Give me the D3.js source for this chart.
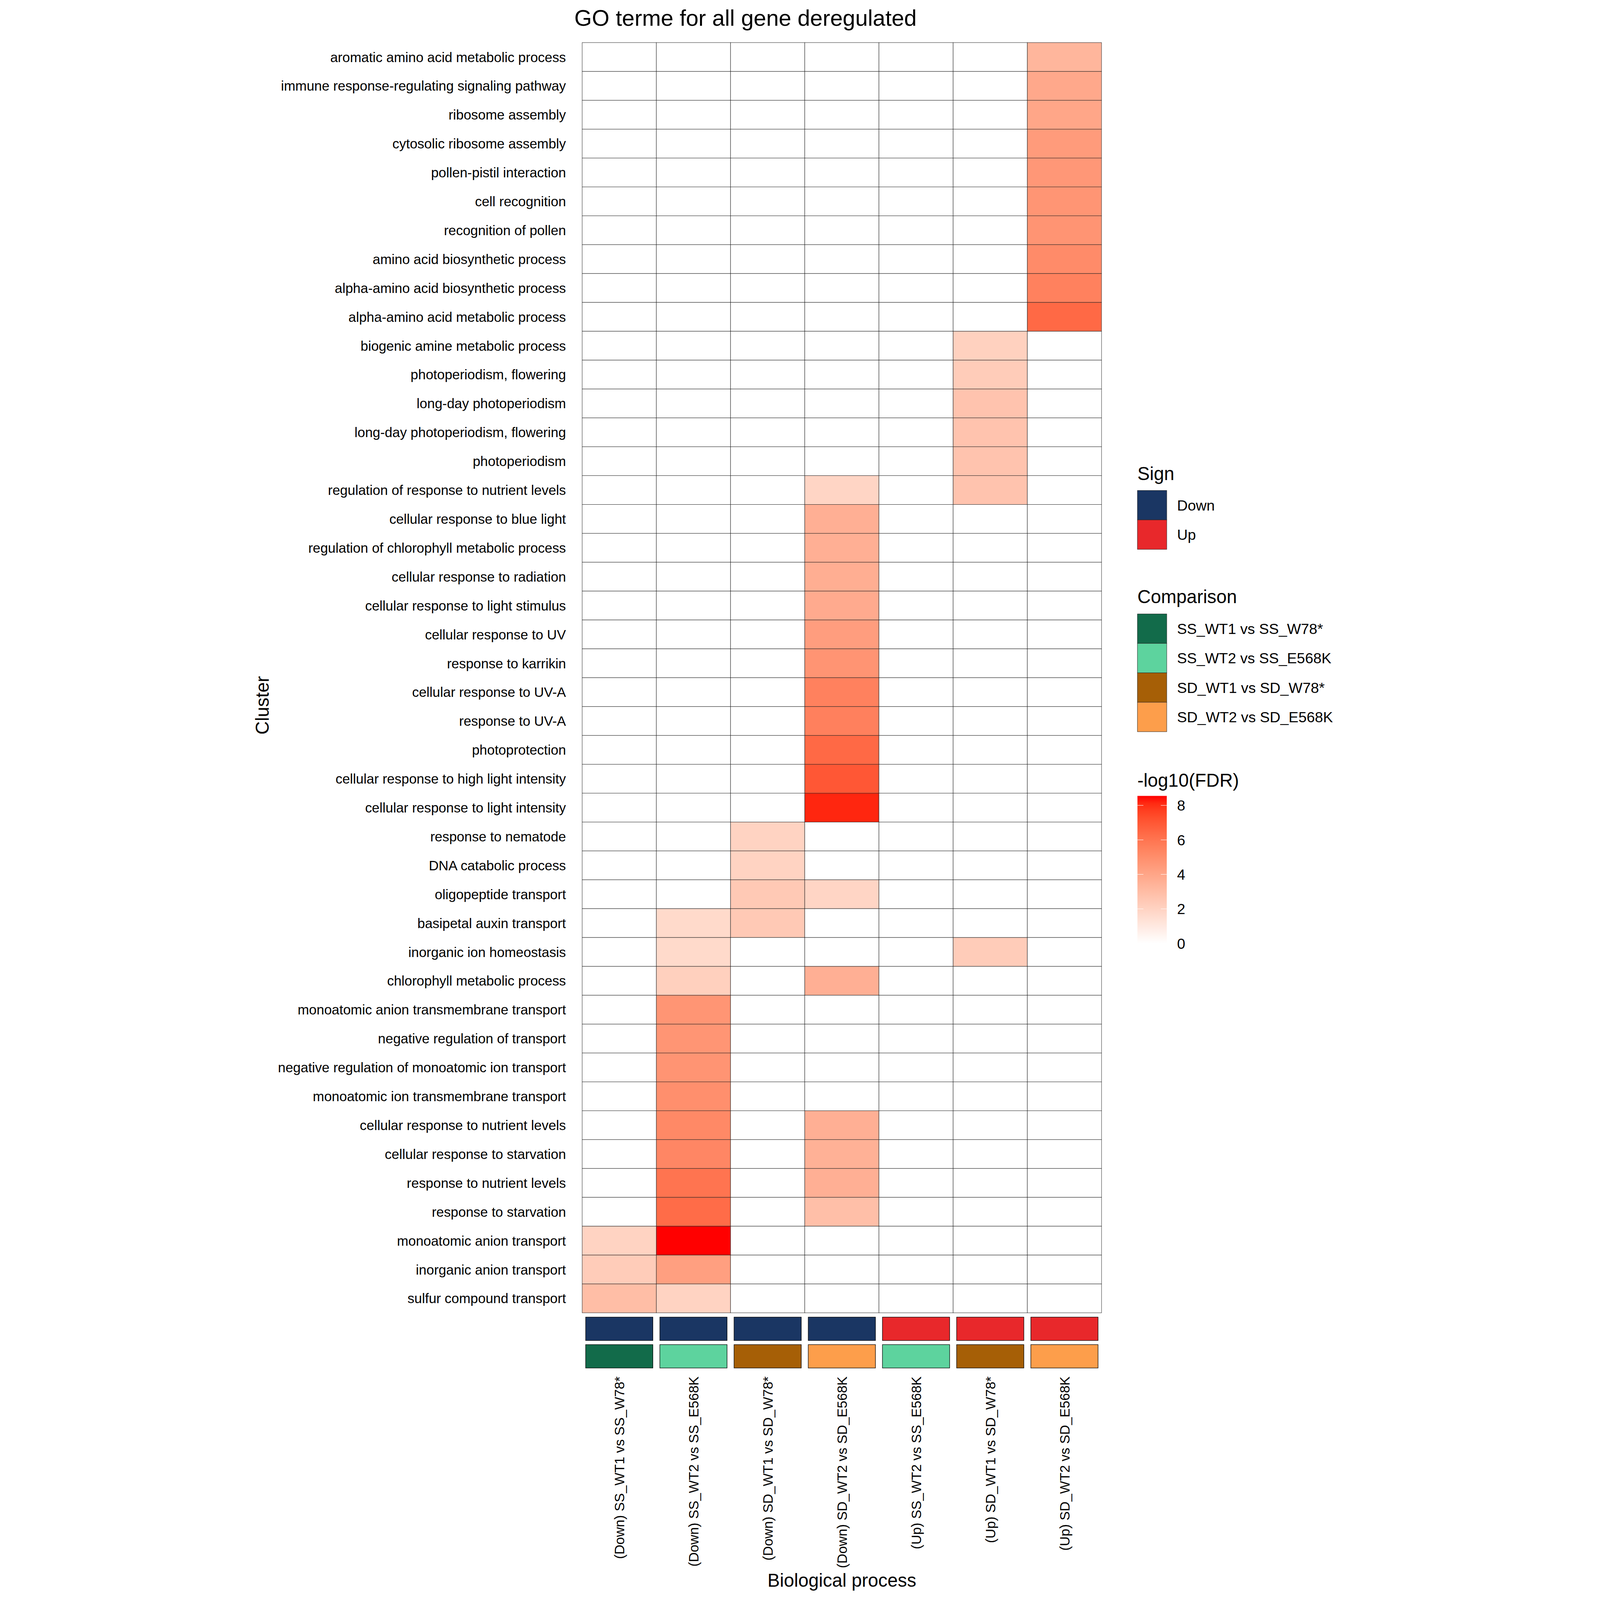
<!DOCTYPE html>
<html><head><meta charset="utf-8">
<script src="https://cdn.jsdelivr.net/npm/d3@7"></script>
<style>html,body{margin:0;padding:0;background:#fff;overflow:hidden}svg{display:block}</style>
</head><body>
<script>
// ---------------- DATA ----------------
const terms = [
 "aromatic amino acid metabolic process",
 "immune response-regulating signaling pathway",
 "ribosome assembly",
 "cytosolic ribosome assembly",
 "pollen-pistil interaction",
 "cell recognition",
 "recognition of pollen",
 "amino acid biosynthetic process",
 "alpha-amino acid biosynthetic process",
 "alpha-amino acid metabolic process",
 "biogenic amine metabolic process",
 "photoperiodism, flowering",
 "long-day photoperiodism",
 "long-day photoperiodism, flowering",
 "photoperiodism",
 "regulation of response to nutrient levels",
 "cellular response to blue light",
 "regulation of chlorophyll metabolic process",
 "cellular response to radiation",
 "cellular response to light stimulus",
 "cellular response to UV",
 "response to karrikin",
 "cellular response to UV-A",
 "response to UV-A",
 "photoprotection",
 "cellular response to high light intensity",
 "cellular response to light intensity",
 "response to nematode",
 "DNA catabolic process",
 "oligopeptide transport",
 "basipetal auxin transport",
 "inorganic ion homeostasis",
 "chlorophyll metabolic process",
 "monoatomic anion transmembrane transport",
 "negative regulation of transport",
 "negative regulation of monoatomic ion transport",
 "monoatomic ion transmembrane transport",
 "cellular response to nutrient levels",
 "cellular response to starvation",
 "response to nutrient levels",
 "response to starvation",
 "monoatomic anion transport",
 "inorganic anion transport",
 "sulfur compound transport"
];

const columns = [
 "(Down) SS_WT1 vs SS_W78*",
 "(Down) SS_WT2 vs SS_E568K",
 "(Down) SD_WT1 vs SD_W78*",
 "(Down) SD_WT2 vs SD_E568K",
 "(Up) SS_WT2 vs SS_E568K",
 "(Up) SD_WT1 vs SD_W78*",
 "(Up) SD_WT2 vs SD_E568K"
];
const columnSign = ["Down","Down","Down","Down","Up","Up","Up"];
const columnComparison = [
 "SS_WT1 vs SS_W78*","SS_WT2 vs SS_E568K","SD_WT1 vs SD_W78*","SD_WT2 vs SD_E568K",
 "SS_WT2 vs SS_E568K","SD_WT1 vs SD_W78*","SD_WT2 vs SD_E568K"
];

const signLevels = ["Down","Up"];
const signColors = ["#1a3663","#e8282b"];
const comparisonLevels = ["SS_WT1 vs SS_W78*","SS_WT2 vs SS_E568K","SD_WT1 vs SD_W78*","SD_WT2 vs SD_E568K"];
const comparisonColors = ["#126b4a","#5dd39e","#a65f06","#fd9e4b"];

// -log10(FDR) per column, in the order of `terms` (0 = not enriched)
const downSS_WT1_W78 = [0,0,0,0,0,0,0,0,0,0, 0,0,0,0,0,0,0,0,0,0, 0,0,0,0,0,0,0,0,0,0, 0,0,0,0,0,0,0,0,0,0, 0,2.0,2.3,2.95];
const downSS_WT2_E568K = [0,0,0,0,0,0,0,0,0,0, 0,0,0,0,0,0,0,0,0,0, 0,0,0,0,0,0,0,0,0,0, 1.7,1.7,2.15,4.7,4.7,4.75,4.95,5.2,5.3,6.0, 6.3,8.55,4.3,2.0];
const downSD_WT1_W78 = [0,0,0,0,0,0,0,0,0,0, 0,0,0,0,0,0,0,0,0,0, 0,0,0,0,0,0,0,2.0,2.0,2.45, 2.45,0,0,0,0,0,0,0,0,0, 0,0,0,0];
const downSD_WT2_E568K = [0,0,0,0,0,0,0,0,0,0, 0,0,0,0,0,1.9,3.6,3.6,3.65,3.8, 4.35,4.75,5.5,5.55,6.4,7.0,8.2,0,0,1.9, 0,0,3.6,0,0,0,0,3.6,3.5,3.6, 2.9,0,0,0];
const upSS_WT2_E568K = [0,0,0,0,0,0,0,0,0,0, 0,0,0,0,0,0,0,0,0,0, 0,0,0,0,0,0,0,0,0,0, 0,0,0,0,0,0,0,0,0,0, 0,0,0,0];
const upSD_WT1_W78 = [0,0,0,0,0,0,0,0,0,0, 2.1,2.3,2.7,2.7,2.7,2.7,0,0,0,0, 0,0,0,0,0,0,0,0,0,0, 0,2.3,0,0,0,0,0,0,0,0, 0,0,0,0];
const upSD_WT2_E568K = [3.3,3.9,4.0,4.45,4.6,4.7,4.75,5.1,5.5,6.4, 0,0,0,0,0,0,0,0,0,0, 0,0,0,0,0,0,0,0,0,0, 0,0,0,0,0,0,0,0,0,0, 0,0,0,0];

const legendTicks = [0,2,4,6,8];

// build long table
const seriesByColumn = [downSS_WT1_W78, downSS_WT2_E568K, downSD_WT1_W78, downSD_WT2_E568K, upSS_WT2_E568K, upSD_WT1_W78, upSD_WT2_E568K];
const cells = [];
columns.forEach((c, ci) => terms.forEach((t, ti) => cells.push({col: c, term: t, v: seriesByColumn[ci][ti]})));

// ---------------- DRAW ----------------
const W = 5400, H = 7800;
const FONT = "'Liberation Sans', Arial, Helvetica, sans-serif";
const svg = d3.select("body").append("svg")
  .attr("viewBox", `0 0 ${W} ${H}`)
  .attr("preserveAspectRatio", "xMidYMid meet")
  .style("width", "100vw").style("height", "100vh")
  .style("font-family", FONT);
svg.append("rect").attr("width", W).attr("height", H).attr("fill", "#fff");

const px0 = 1638, px1 = 4170, py0 = 207.6, py1 = 6400;
const x = d3.scaleBand().domain(columns).range([px0, px1]).padding(0);
const y = d3.scaleBand().domain(terms).range([py0, py1]).padding(0);
const vmax = d3.max(cells, d => d.v);
const color = d3.scaleLinear().domain([0, vmax]).range(["#ffffff", "#ff0000"]).interpolate(d3.interpolateLab);
const signScale = d3.scaleOrdinal().domain(signLevels).range(signColors);
const compScale = d3.scaleOrdinal().domain(comparisonLevels).range(comparisonColors);

// tiles
svg.append("g").selectAll("rect").data(cells).join("rect")
  .attr("x", d => x(d.col)).attr("y", d => y(d.term))
  .attr("width", x.bandwidth()).attr("height", y.bandwidth())
  .attr("fill", d => color(d.v))
  .attr("stroke", "#222").attr("stroke-width", 1.8);

// row labels (y axis)
const fsAxis = 66.5;
const yAxis = d3.axisLeft(y).tickSize(0).tickPadding(79);
const gy = svg.append("g").attr("transform", `translate(${px0},0)`).call(yAxis);
gy.select(".domain").remove();
gy.selectAll("text").attr("font-size", fsAxis).attr("font-family", FONT).attr("fill", "#000")
  .attr("dy", null).attr("dominant-baseline", null).attr("y", fsAxis * 0.36);

// annotation bars
const inset = 17;
const annot = svg.append("g");
annot.selectAll("rect.sign").data(columns).join("rect").attr("class", "sign")
  .attr("x", d => x(d) + inset).attr("width", x.bandwidth() - 2 * inset)
  .attr("y", 6421).attr("height", 114)
  .attr("fill", (d, i) => signScale(columnSign[i])).attr("stroke", "#000").attr("stroke-width", 2.4);
annot.selectAll("rect.comp").data(columns).join("rect").attr("class", "comp")
  .attr("x", d => x(d) + inset).attr("width", x.bandwidth() - 2 * inset)
  .attr("y", 6555).attr("height", 114)
  .attr("fill", (d, i) => compScale(columnComparison[i])).attr("stroke", "#000").attr("stroke-width", 2.4);

// x labels (rotated)
const xAxis = d3.axisBottom(x).tickSize(0);
const gx = svg.append("g").attr("transform", `translate(0,6710)`).call(xAxis);
gx.select(".domain").remove();
gx.selectAll("text").attr("font-size", fsAxis).attr("font-family", FONT).attr("fill", "#000")
  .attr("y", 0).attr("dy", null)
  .attr("text-anchor", "end")
  .attr("transform", `translate(${fsAxis * 0.36},0) rotate(-90)`);

// titles
svg.append("text").attr("x", 1600).attr("y", 125).attr("font-size", 110).text("GO terme for all gene deregulated");
svg.append("text").attr("transform", `translate(111,${(py0 + 6669) / 2}) rotate(-90)`)
  .attr("text-anchor", "middle").attr("font-size", 90).text("Cluster");
svg.append("text").attr("x", (px0 + px1) / 2).attr("y", 7736).attr("text-anchor", "middle")
  .attr("font-size", 90).text("Biological process");

// legends
const lx = 4345, keyW = 143, keyH = 143.5, labX = 4538, fsLeg = 72, fsLegT = 90;
function discreteLegend(title, titleY, keyY, levels, scale) {
  const g = svg.append("g");
  g.append("text").attr("x", lx).attr("y", titleY).attr("font-size", fsLegT).text(title);
  levels.forEach((lv, i) => {
    g.append("rect").attr("x", lx).attr("y", keyY + i * keyH).attr("width", keyW).attr("height", keyH)
      .attr("fill", scale(lv)).attr("stroke", "#222").attr("stroke-width", 1.8);
    g.append("text").attr("x", labX).attr("y", keyY + i * keyH + keyH / 2 + fsLeg * 0.36)
      .attr("font-size", fsLeg).text(lv);
  });
}
discreteLegend("Sign", 2340, 2391, signLevels, signScale);
discreteLegend("Comparison", 2941, 2993, comparisonLevels, compScale);

// colorbar
svg.append("text").attr("x", lx).attr("y", 3835).attr("font-size", fsLegT).text("-log10(FDR)");
const cbTop = 3880, cbBot = 4599;
const cbY = d3.scaleLinear().domain([0, vmax]).range([cbBot, cbTop]);
const defs = svg.append("defs");
const grad = defs.append("linearGradient").attr("id", "cbgrad").attr("x1", 0).attr("y1", 1).attr("x2", 0).attr("y2", 0);
d3.range(0, 21).forEach(i => {
  const v = vmax * i / 20;
  grad.append("stop").attr("offset", i / 20).attr("stop-color", color(v));
});
svg.append("rect").attr("x", lx).attr("y", cbTop).attr("width", keyW).attr("height", cbBot - cbTop).attr("fill", "url(#cbgrad)");
const cbAxis = svg.append("g");
legendTicks.forEach(t => {
  const yy = cbY(t);
  cbAxis.append("line").attr("x1", lx).attr("x2", lx + 29).attr("y1", yy).attr("y2", yy).attr("stroke", "#fff").attr("stroke-width", 2);
  cbAxis.append("line").attr("x1", lx + keyW - 29).attr("x2", lx + keyW).attr("y1", yy).attr("y2", yy).attr("stroke", "#fff").attr("stroke-width", 2);
  cbAxis.append("text").attr("x", labX).attr("y", yy + fsLeg * 0.36).attr("font-size", fsLeg).text(t);
});
</script>
</body></html>
